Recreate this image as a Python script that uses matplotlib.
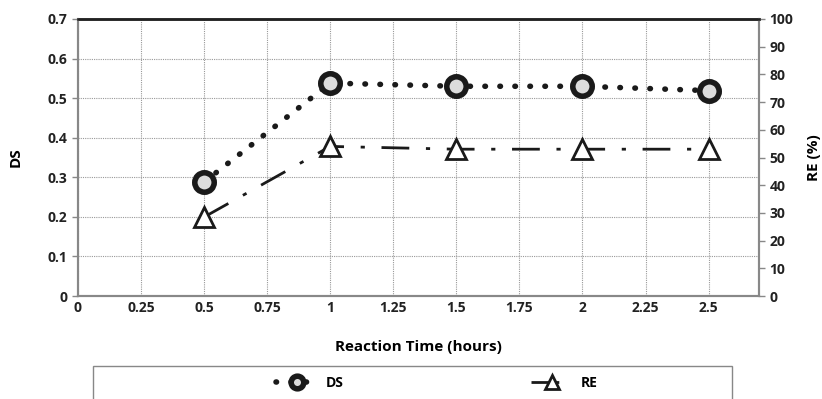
import matplotlib.pyplot as plt
from matplotlib.patches import Rectangle
import numpy as np

plt.rcParams['font.family'] = ['Open Sans', 'DejaVu Sans']
plt.rcParams['font.weight'] = 'bold'

# reaction time (hours)
time_h = [0.5, 1.0, 1.5, 2.0, 2.5]
ds = [0.288, 0.538, 0.530, 0.530, 0.519]
re = [28.5, 54, 53, 53, 53]

x_ticks = [0, 0.25, 0.5, 0.75, 1, 1.25, 1.5, 1.75, 2, 2.25, 2.5]
x_labels = ['0', '0.25', '0.5', '0.75', '1', '1.25', '1.5', '1.75', '2', '2.25', '2.5']

fig = plt.figure(figsize=(8.22, 3.99), dpi=100)
ax = fig.add_axes([78 / 822, 1 - 296 / 399, (759 - 78) / 822, (296 - 19) / 399])
ax2 = ax.twinx()

ax.set_xlim(0, 2.7)
ax.set_ylim(0, 0.7)
ax2.set_ylim(0, 100)

ax.set_xticks(x_ticks)
ax.set_xticklabels(x_labels)
ax.set_yticks(np.arange(0, 0.71, 0.1))
ax.set_yticklabels(['0', '0.1', '0.2', '0.3', '0.4', '0.5', '0.6', '0.7'])
ax2.set_yticks(np.arange(0, 101, 10))

ax.grid(True, color='#999999', linestyle=(0, (1, 1)), linewidth=0.8)
ax.set_axisbelow(True)

for a in (ax, ax2):
    for s in ('left', 'right', 'bottom'):
        a.spines[s].set_color('#888888')
        a.spines[s].set_linewidth(1.5)
    a.spines['top'].set_color('#222222')
    a.spines['top'].set_linewidth(1.8)
    a.tick_params(labelsize=10, colors='#222222', length=4, width=1, direction='out')
    a.tick_params(axis='both', color='#888888')
ax.tick_params(axis='x', length=0)

l1, = ax.plot(time_h, ds, color='#1a1a1a', linestyle=(0, (0.1, 2.6)), linewidth=4,
              dash_capstyle='round', marker='o', markersize=14, markerfacecolor='#dcdcdc',
              markeredgecolor='#1a1a1a', markeredgewidth=4, zorder=4, label='DS')
l2, = ax2.plot(time_h, re, color='#1a1a1a', linestyle=(0, (10, 6, 1.5, 6)), linewidth=2,
               marker='^', markersize=15, markerfacecolor='white',
               markeredgecolor='#1a1a1a', markeredgewidth=2, zorder=3, label='RE')

ax.set_xlabel('Reaction Time (hours)', fontsize=11, fontweight='bold', labelpad=18)
ax.set_ylabel('DS', fontsize=11, fontweight='bold', labelpad=18)
ax2.set_ylabel('RE (%)', fontsize=11, fontweight='bold', labelpad=10)

# legend frame (runs off the bottom edge as in the reference)
fig.patches.append(Rectangle((93 / 822, -0.05), (732 - 93) / 822, (399 - 366) / 399 + 0.05,
                             transform=fig.transFigure, fill=False,
                             edgecolor='#888888', linewidth=1))
leg = fig.legend(handles=[l1, l2], loc='center', bbox_to_anchor=(437 / 822, 1 - 383 / 399),
                 ncol=2, fontsize=10, frameon=False, markerscale=0.65,
                 handlelength=3.0, columnspacing=13.5, handletextpad=0.6,
                 borderpad=0)

fig.savefig('out.png', dpi=100, facecolor='white')
